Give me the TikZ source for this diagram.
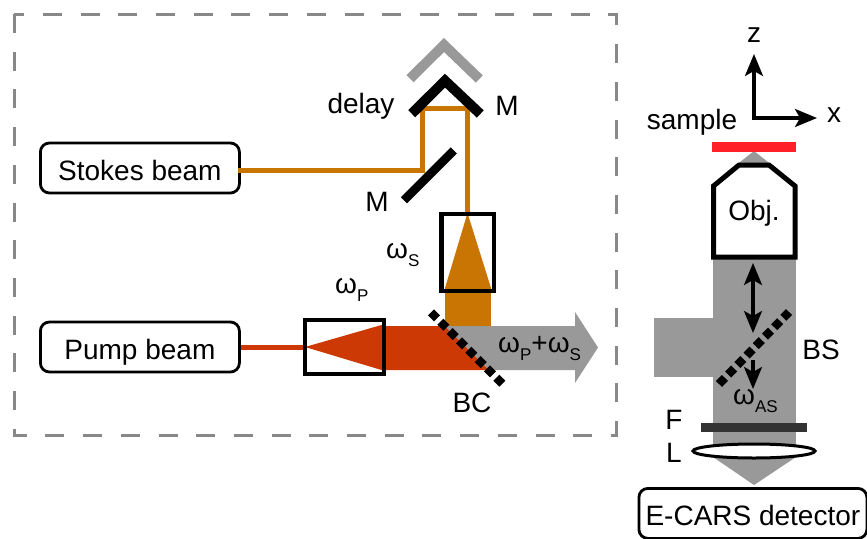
\documentclass[tikz,border=0pt]{standalone}
\usepackage{fontspec}
\setmainfont{Liberation Sans}
\usetikzlibrary{arrows.meta}
\definecolor{beamorange}{HTML}{C87503}
\definecolor{beamred}{HTML}{CC3904}
\definecolor{beamgray}{HTML}{999999}
\definecolor{framegray}{HTML}{888888}
\definecolor{samplered}{HTML}{FF2028}
\definecolor{filterdark}{HTML}{333333}
\newcommand{\fsub}[2]{#1\raisebox{-8pt}{\fontsize{17}{18}\selectfont #2}}
\tikzset{
  lbl/.style={inner sep=0pt,font=\fontsize{28}{30}\selectfont},
  source/.style={draw=black,line width=2.8pt,rounded corners=9pt,fill=white,inner sep=0pt,font=\fontsize{28}{30}\selectfont,minimum height=50pt,minimum width=199pt,text height=24pt,text depth=0pt},
  optbox/.style={draw=black,line width=4.5pt,fill=none},
  mirror/.style={draw=black,line width=10pt,line cap=butt,miter limit=10},
  splitter/.style={draw=black,line width=8.5pt,dash pattern=on 8.5pt off 4.7pt},
  thinbeam/.style={line width=5pt},
  tip/.style={-{Stealth[length=22pt,width=18pt,inset=5pt]},line width=3.2pt},
  twotip/.style={{Stealth[length=22pt,width=18pt,inset=5pt]}-{Stealth[length=22pt,width=18pt,inset=5pt]},line width=3.2pt}
}
\begin{document}
\begin{tikzpicture}[x=1pt,y=-1pt]
\useasboundingbox (0,0) rectangle (867,538);
% dashed frame
\draw[framegray,line width=3pt,dash pattern=on 19pt off 18.7pt] (14,14) rectangle (616,435);
% sources
\node[source,anchor=west] (stokes) at (39,168) {Stokes beam};
\node[source,anchor=west] (pump) at (39,347) {Pump beam};
% coordinates of stokes path
\coordinate (m1) at (422,170);
\coordinate (m1t) at (422,108);
\coordinate (m2t) at (467,108);
\coordinate (sbtop) at (467,215);
\coordinate (pbl) at (305,347);
% beams
\draw[beamorange,thinbeam,line join=miter] (238,170) -- (m1) -- (m1t) -- (m2t) -- (sbtop);
\draw[beamred,thinbeam] (pump.east) -- (pbl);
\fill[beamorange] (467.5,213) -- (445,288) -- (445,291) -- (491,291) -- (491,288) -- cycle;
\fill[beamorange] (445,289) rectangle (491,327);
\fill[beamgray] (444.6,326) -- (575,326) -- (575,312) -- (598,347.5) -- (575,383) -- (575,370) -- (488.6,370) -- cycle;
\fill[beamred] (305,347) -- (381.5,325) -- (384,326) -- (444.6,326) -- (488.6,370) -- (384,370) -- (381.5,370) -- cycle;
% optics left
\draw[optbox] (441.5,214) rectangle (494,291);
\draw[optbox] (305,320) rectangle (384,374);
\draw[mirror,beamgray] (410,78.7) -- (444,45) -- (479.3,79);
\draw[mirror] (411.7,113.7) -- (445,80.7) -- (480.3,114);
\draw[line width=8.7pt,black] (404,200.3) -- (453.8,150.5);
\draw[splitter] (431,312.4) -- (503,384.3);
% right side beams
\fill[beamgray] (754,151) -- (735,166) -- (773,166) -- cycle;
\fill[beamgray] (713,257) rectangle (796,457);
\fill[beamgray] (654,318) rectangle (714,377);
\fill[beamgray] (713,457) -- (754,485) -- (796,457) -- cycle;
% sample, objective
\fill[samplered] (712,142) rectangle (796,152);
\draw[draw=black,line width=5pt,fill=white] (713.5,257) -- (713.5,186) -- (739,165) -- (769,165) -- (795,186) -- (795,257) -- cycle;
\node[lbl] (obj) at (754,213) {Obj.};
% arrows
\coordinate (a1) at (753,263);
\coordinate (a2) at (753,333);
\draw[twotip] (a1) -- (a2);
\coordinate (a3) at (753,360);
\coordinate (a4) at (753,389);
\draw[tip] (a3) -- (a4);
\draw[splitter] (719,384) -- (789,312);
% filter, lens
\fill[filterdark] (701,423) rectangle (807,432);
\draw[black,line width=3pt,fill=white] (754,451) ellipse [x radius=61,y radius=7];
% detector
\node[source,anchor=north west,minimum width=228pt,minimum height=50pt] (det) at (637.5,487) {E-CARS detector};
% axes
\coordinate (o) at (754,118);
\coordinate (az) at (754,54);
\coordinate (ax) at (817,118);
\draw[twotip,line join=miter] (az) -- (o) -- (ax);
% labels
\node[lbl] (tz) at (754,35) {z};
\node[lbl] (tx) at (834,115) {x};
\node[lbl] (tsample) at (692,122.5) {sample};
\node[lbl] (tdelay) at (361,106.5) {delay};
\node[lbl] (tm1) at (507,106) {M};
\node[lbl] (tm2) at (377,202) {M};
\node[lbl] (tbc) at (472,403) {BC};
\node[lbl] (tbs) at (821,350) {BS};
\node[lbl] (tf) at (674,420) {F};
\node[lbl] (tl) at (674,453) {L};
\node[lbl,anchor=base west] (ws) at (386,258) {\fsub{ω}{S}};
\node[lbl,anchor=base west] (wp) at (335,293) {\fsub{ω}{P}};
\node[lbl,anchor=base west] (wps) at (498,352.7) {\fsub{ω}{P}+\fsub{ω}{S}};
\node[lbl,anchor=base west] (was) at (733,404) {\fsub{ω}{AS}};
\end{tikzpicture}
\end{document}
